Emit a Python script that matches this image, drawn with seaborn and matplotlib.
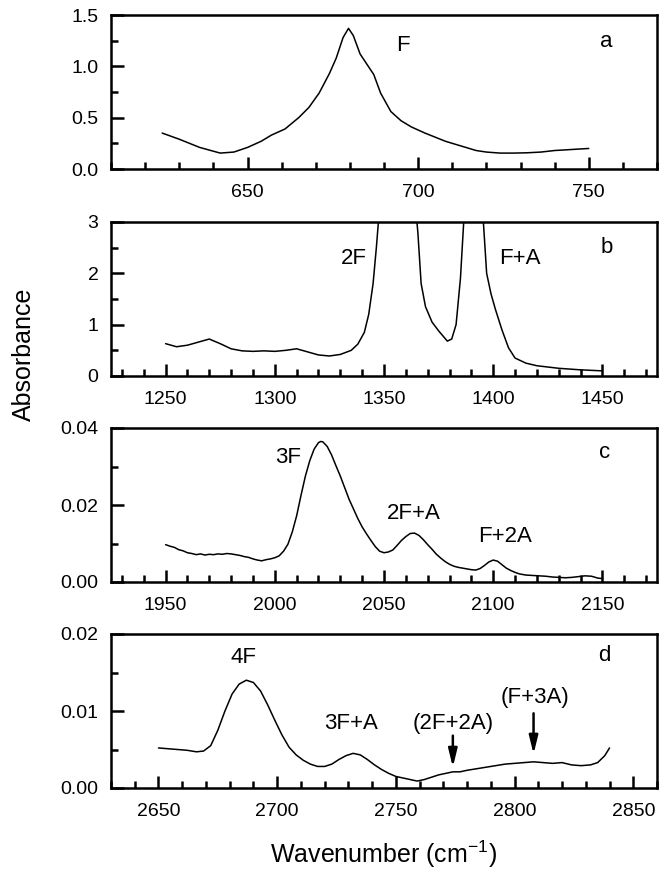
import numpy as np
import pandas as pd
import matplotlib
matplotlib.use("Agg")
import matplotlib.pyplot as plt
from matplotlib.ticker import MultipleLocator
import seaborn as sns

# panel a: fundamental F
wn_a = [625, 630, 636, 642, 646, 650, 654, 657, 661, 665, 668, 671, 674, 676, 678,
        679.6, 681, 683, 685, 687, 689, 692, 695, 698, 702, 705, 708, 711, 714, 717,
        720, 724, 728, 732, 736, 740, 745, 750]
abs_a = [0.35, 0.29, 0.21, 0.155, 0.165, 0.21, 0.27, 0.33, 0.39, 0.50, 0.60, 0.74,
         0.93, 1.08, 1.28, 1.37, 1.30, 1.12, 1.02, 0.92, 0.74, 0.56, 0.47, 0.41,
         0.35, 0.31, 0.27, 0.24, 0.21, 0.18, 0.165, 0.155, 0.155, 0.158, 0.165,
         0.18, 0.19, 0.20]

# panel b: 2F and F+A (saturated)
wn_b = [1250, 1255, 1260, 1265, 1270, 1275, 1280, 1285, 1290, 1295, 1300, 1305,
        1310, 1315, 1320, 1325, 1330, 1335, 1338, 1341, 1343, 1345, 1346.5, 1348,
        1356, 1364, 1365.5, 1367, 1369, 1372, 1375, 1379, 1381, 1383, 1385, 1386.5,
        1388, 1391, 1394, 1395.5, 1397, 1399, 1401, 1404, 1407, 1410, 1415, 1420,
        1430, 1440, 1450]
abs_b = [0.63, 0.57, 0.60, 0.66, 0.72, 0.63, 0.53, 0.49, 0.48, 0.49, 0.48, 0.50,
         0.53, 0.47, 0.41, 0.39, 0.42, 0.50, 0.62, 0.85, 1.20, 1.80, 2.50, 3.30,
         5.00, 3.50, 2.80, 1.80, 1.35, 1.05, 0.88, 0.68, 0.72, 1.00, 1.90, 3.00,
         3.80, 5.00, 3.80, 3.00, 2.00, 1.60, 1.30, 0.90, 0.55, 0.35, 0.25, 0.20,
         0.15, 0.12, 0.10]

# panel c: 3F, 2F+A, F+2A
wn_c = [1950, 1952, 1954, 1956, 1958, 1960, 1962, 1964, 1966, 1968, 1970, 1972,
        1974, 1976, 1978, 1980, 1982, 1984, 1986, 1988, 1990, 1992, 1994, 1996,
        1998, 2000, 2002, 2004, 2006, 2008, 2010, 2012, 2014, 2016, 2018, 2020,
        2021, 2022, 2024, 2026, 2028, 2030, 2032, 2034, 2036, 2038, 2040, 2042,
        2044, 2046, 2048, 2050, 2052, 2054, 2056, 2058, 2060, 2062, 2064, 2066,
        2068, 2070, 2072, 2074, 2076, 2078, 2080, 2082, 2084, 2086, 2088, 2090,
        2092, 2094, 2096, 2098, 2100, 2102, 2104, 2106, 2108, 2110, 2112, 2115,
        2118, 2121, 2124, 2127, 2130, 2133, 2136, 2139, 2142, 2145, 2148, 2150]
abs_c = [0.0097, 0.0093, 0.0090, 0.0084, 0.0081, 0.0076, 0.0074, 0.0071, 0.0073,
         0.0070, 0.0072, 0.0071, 0.0073, 0.0072, 0.0074, 0.0073, 0.0071, 0.0069,
         0.0066, 0.0064, 0.0060, 0.0057, 0.0055, 0.0058, 0.0060, 0.0063, 0.0068,
         0.0080, 0.0098, 0.0130, 0.0172, 0.0225, 0.0275, 0.0315, 0.0345, 0.0362,
         0.0365, 0.0364, 0.0352, 0.0330, 0.0302, 0.0275, 0.0245, 0.0215, 0.0190,
         0.0165, 0.0143, 0.0125, 0.0108, 0.0092, 0.0080, 0.0076, 0.0078, 0.0083,
         0.0095, 0.0108, 0.0118, 0.0126, 0.0127, 0.0121, 0.0110, 0.0097, 0.0085,
         0.0072, 0.0062, 0.0053, 0.0046, 0.0041, 0.0038, 0.0036, 0.0034, 0.0032,
         0.0031, 0.0035, 0.0043, 0.0052, 0.0057, 0.0054, 0.0045, 0.0036, 0.0030,
         0.0025, 0.0021, 0.0018, 0.0017, 0.0016, 0.0015, 0.0013, 0.0012, 0.0011,
         0.0012, 0.0014, 0.0016, 0.0015, 0.0010, 0.0009]

# panel d: 4F, 3F+A, (2F+2A), (F+3A)
wn_d = [2650, 2654, 2658, 2662, 2666, 2669, 2672, 2675, 2678, 2681, 2684, 2687,
        2690, 2693, 2696, 2699, 2702, 2705, 2708, 2711, 2714, 2717, 2720, 2723,
        2726, 2729, 2732, 2735, 2738, 2741, 2744, 2747, 2750, 2753, 2756, 2759,
        2762, 2765, 2768, 2771, 2774, 2777, 2780, 2784, 2788, 2792, 2796, 2800,
        2804, 2808, 2812, 2816, 2820, 2824, 2828, 2832, 2835, 2838, 2840]
abs_d = [0.0052, 0.0051, 0.0050, 0.0049, 0.0047, 0.0048, 0.0055, 0.0075, 0.0100,
         0.0122, 0.0135, 0.0140, 0.0137, 0.0126, 0.0108, 0.0088, 0.0069, 0.0053,
         0.0043, 0.0036, 0.0031, 0.0028, 0.0028, 0.0031, 0.0037, 0.0042, 0.0045,
         0.0043, 0.0037, 0.0030, 0.0024, 0.0019, 0.0015, 0.0013, 0.0011, 0.0009,
         0.0011, 0.0014, 0.0017, 0.0019, 0.0021, 0.0021, 0.0023, 0.0025, 0.0027,
         0.0029, 0.0031, 0.0032, 0.0033, 0.0034, 0.0033, 0.0032, 0.0033, 0.0030,
         0.0029, 0.0030, 0.0033, 0.0042, 0.0052]

panel_letters = ["a", "b", "c", "d"]
band_labels = [
    [("F", 695.5, 1.20)],
    [("2F", 1336, 2.28), ("F+A", 1412, 2.28)],
    [("3F", 2006, 0.0323), ("2F+A", 2063.5, 0.0178), ("F+2A", 2105.5, 0.0117)],
    [("4F", 2686, 0.0170), ("3F+A", 2731, 0.0084), ("(2F+2A)", 2774, 0.0084),
     ("(F+3A)", 2808.5, 0.0118)],
]
arrows_d = [(2774, 0.0068, 0.0027), (2808, 0.0097, 0.0044)]

sns.set_style("ticks", {"axes.edgecolor": "black", "text.color": "black",
                        "xtick.color": "black", "ytick.color": "black",
                        "axes.labelcolor": "black"})
plt.rcParams["font.family"] = ["Liberation Sans", "DejaVu Sans"]

fig = plt.figure(figsize=(6.64, 8.69), dpi=100)
W, H = 664, 869
tops = [15, 222, 428, 634]
hgt = 154
left_px, right_px = 111, 657

panels = [
    (wn_a, abs_a, (610, 770), (0, 1.5), 50, 10, 0.5, 0.25, "{:.1f}", (755, 1.24)),
    (wn_b, abs_b, (1225, 1475), (0, 3), 50, 10, 1, 0.5, "{:.0f}", (1452, 2.5)),
    (wn_c, abs_c, (1925, 2175), (0, 0.04), 50, 10, 0.02, 0.01, "{:.2f}", (2151, 0.0336)),
    (wn_d, abs_d, (2630, 2860), (0, 0.02), 50, 10, 0.01, 0.005, "{:.2f}", (2838, 0.0172)),
]

for i, (wn, ab, xl, yl, xmaj, xmin, ymaj, ymin, fmt, letter_pos) in enumerate(panels):
    ax = fig.add_axes([left_px / W, 1 - (tops[i] + hgt) / H,
                       (right_px - left_px) / W, hgt / H])
    df = pd.DataFrame({"wavenumber": wn, "absorbance": ab})
    sns.lineplot(data=df, x="wavenumber", y="absorbance", ax=ax,
                 color="black", linewidth=1.1, sort=False)
    ax.set_xlim(*xl)
    ax.xaxis.set_major_locator(MultipleLocator(xmaj))
    ax.xaxis.set_minor_locator(MultipleLocator(xmin))
    ax.yaxis.set_minor_locator(MultipleLocator(ymin))
    yt = np.arange(yl[0], yl[1] + ymaj / 2, ymaj)
    ax.set_yticks(yt)
    ax.set_yticklabels([fmt.format(v) for v in yt])
    ax.set_ylim(*yl)
    ax.tick_params(which="both", direction="in", top=False, right=False,
                   width=1.8, labelsize=14, colors="black")
    ax.tick_params(axis="y", which="major", length=9, pad=9)
    ax.tick_params(axis="x", which="major", length=9, pad=11)
    ax.tick_params(which="minor", length=5)
    for s in ax.spines.values():
        s.set_linewidth(1.8)
        s.set_color("black")
        s.set_visible(True)
    ax.set_xlabel("")
    ax.set_ylabel("")
    for txt, x, y in band_labels[i]:
        ax.text(x, y, txt, ha="center", va="center", fontsize=16)
    ax.text(letter_pos[0], letter_pos[1], panel_letters[i], ha="center",
            va="center", fontsize=16)
    if i == 3:
        for x, y0, y1 in arrows_d:
            ax.annotate("", xy=(x, y1), xytext=(x, y0),
                        arrowprops=dict(arrowstyle="-|>,head_length=0.9,head_width=0.22",
                                        color="black", lw=1.8, mutation_scale=12,
                                        shrinkA=0, shrinkB=0))

fig.text(24 / W, 1 - 354 / H, "Absorbance", rotation=90, ha="center",
         va="center", fontsize=18)
fig.text(384 / W, 1 - 854 / H, r"Wavenumber (cm$^{\mathregular{-1}}$)", ha="center",
         va="center", fontsize=18)

fig.savefig("out.png", dpi=100)
